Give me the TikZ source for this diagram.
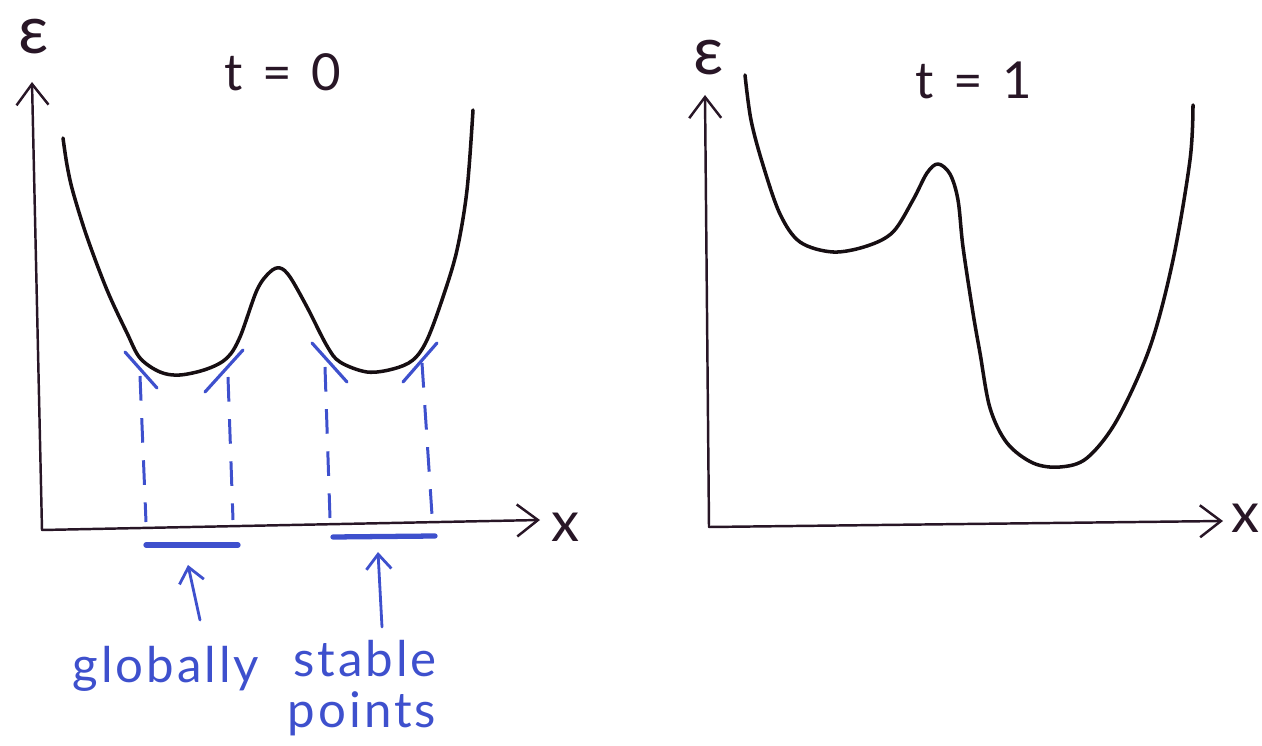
\documentclass[tikz,border=0pt]{standalone}
\usepackage{fontspec}
\setmainfont{Lato}
\usetikzlibrary{arrows.meta}
\definecolor{ink}{RGB}{40,22,38}
\definecolor{curveink}{RGB}{22,14,18}
\definecolor{pen}{RGB}{62,80,205}
\tikzset{
  axis/.style={draw=ink, line width=1.4pt, line cap=round, -{Straight Barb[length=0.42cm,width=0.64cm,line width=1.4pt]}},
  energy/.style={draw=curveink, line width=2pt, line cap=round, line join=round},
  guide/.style={draw=pen, line width=1.7pt, dash pattern=on 14pt off 10pt},
  tangent/.style={draw=pen, line width=1.8pt, line cap=round},
  interval/.style={draw=pen, line width=3pt, line cap=round},
  pointer/.style={draw=pen, line width=1.6pt, line cap=round, -{Straight Barb[length=0.3cm,width=0.5cm,line width=1.6pt]}},
  lbl/.style={text=ink, inner sep=0pt, font=\fontsize{29}{34}\selectfont},
  axlbl/.style={text=ink, inner sep=0pt, font=\fontsize{32}{38}\selectfont},
  greek/.style={text=ink, inner sep=0pt, font=\fontsize{38}{44}\selectfont\addfontfeature{FakeBold=-0.6}},
  note/.style={text=pen, inner sep=0pt, font=\fontsize{28}{34}\selectfont\addfontfeature{LetterSpace=6}},
}
\begin{document}
\begin{tikzpicture}[x=0.02cm, y=-0.02cm]
\useasboundingbox (0,0) rectangle (1262,746);

% ---------- left panel (t = 0) ----------
\coordinate (oL) at (42,530);
\coordinate (yL) at (32,82);
\coordinate (xL) at (540,520);
\draw[axis] (oL) -- (yL);
\draw[axis] (oL) -- (xL);
\node[greek] (epsL) at (34,37) {ε};
\node[lbl] (tL) at (283,72) {t\hspace{11pt}=\hspace{11pt}0};
\node[axlbl] (labxL) at (565,527) {x};

\draw[energy] plot[smooth, tension=0.55] coordinates {
 (63,138) (67,165) (73,192) (87,237) (107,290) (127,333) (140,358) (160,372)
 (180,375) (207,369) (227,358) (240,337) (257,290) (270,272) (280,268)
 (290,277) (307,307) (327,346) (340,362) (367,372) (393,369) (413,360)
 (427,340) (443,297) (457,250) (467,190) (473,110)};

% tangents at the basin edges
\draw[tangent] (125,352) -- (157,388);
\draw[tangent] (205,392) -- (243,350);
\draw[tangent] (312,343) -- (347,382);
\draw[tangent] (403,382) -- (437,343);

% dashed projections
\draw[guide] (140,376) -- (146,522);
\draw[guide] (228,377) -- (233,520);
\draw[guide] (325,367) -- (330,518);
\draw[guide] (422,363) -- (432,515);

% stable intervals
\coordinate (b1a) at (146,545);
\coordinate (b1b) at (238,545);
\coordinate (b2a) at (333,537);
\coordinate (b2b) at (435,536);
\draw[interval] (b1a) -- (b1b);
\draw[interval] (b2a) -- (b2b);

% annotation
\node[note, anchor=base] (glob) at (166,683) {globally};
\node[note, anchor=base] (stab) at (365,676) {stable};
\node[note, anchor=base] (pts) at (362,727) {points};
\coordinate (p1t) at (200,620);
\coordinate (p1h) at (188,565);
\coordinate (p2t) at (382,627);
\coordinate (p2h) at (378,552);
\draw[pointer] (p1t) -- (p1h);
\draw[pointer] (p2t) -- (p2h);

% ---------- right panel (t = 1) ----------
\coordinate (oR) at (709,527);
\coordinate (yR) at (705,95);
\coordinate (xR) at (1223,521);
\draw[axis] (oR) -- (yR);
\draw[axis] (oR) -- (xR);
\node[greek] (epsR) at (709,58) {ε};
\node[lbl] (tR) at (974,80) {t\hspace{11pt}=\hspace{11pt}1};
\node[axlbl] (labxR) at (1245,518) {x};

\draw[energy] plot[smooth, tension=0.55] coordinates {
 (745,75) (751,120) (763,165) (780,214) (800,242) (833,252)
 (867,246) (893,232) (913,200) (927,173) (938,164) (950,174) (958,200)
 (963,247) (973,313) (980,353) (990,408) (1007,443) (1033,463) (1060,467)
 (1087,458) (1117,420) (1150,347) (1173,260) (1190,160) (1193,105)};
\end{tikzpicture}
\end{document}
